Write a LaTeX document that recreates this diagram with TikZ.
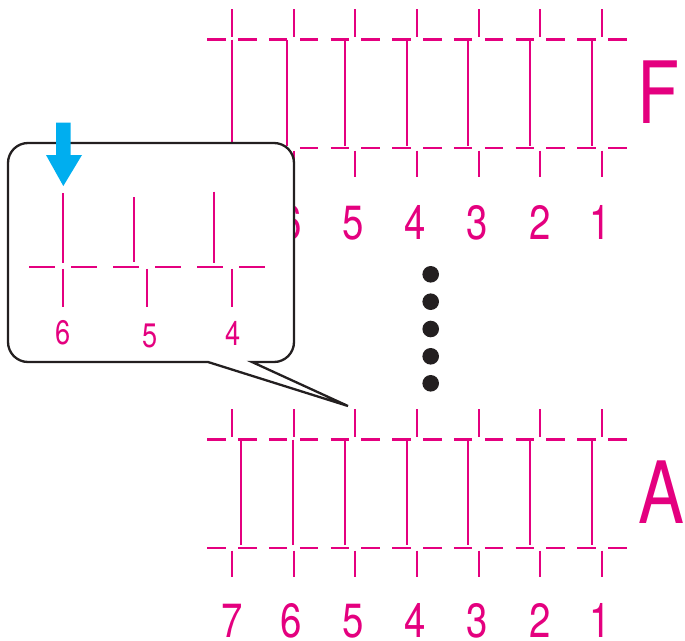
\documentclass[tikz,border=0pt]{standalone}
\usepackage{fontspec}
\setmainfont{TeX Gyre Heros}[FakeStretch=0.8]
\definecolor{pk}{HTML}{E4007F}
\definecolor{cy}{HTML}{00AEEF}
\definecolor{ink}{HTML}{231F20}
\begin{document}
\begin{tikzpicture}[x=1pt,y=-1pt,
  pkl/.style={draw=pk,line width=2.3pt},
  rowdash/.style={pkl,dash pattern=on 18.5pt off 12.33pt},
  boxdash/.style={pkl,dash pattern=on 25.7pt off 16.3pt},
  num/.style={text=pk,anchor=base,inner sep=0pt,font=\fontsize{48}{48}\selectfont},
  smallnum/.style={text=pk,anchor=base,inner sep=0pt,font=\fontsize{34}{34}\selectfont},
  big/.style={text=pk,anchor=base,inner sep=0pt,font=\fontsize{86}{86}\selectfont}]
\useasboundingbox (0,0) rectangle (685,640);

% ---------- row F ----------
\draw[rowdash] (207.33,39.5) -- (626.67,39.5);
\draw[rowdash] (207.33,148) -- (626.67,148);
\foreach \x in {232,293.67,355.33,417,478.67,540.33,602}{
  \draw[pkl] (\x,9) -- (\x,36.7);
  \draw[pkl] (\x,150.5) -- (\x,177);
}
\foreach \x in {232,287,345,407,468,530,592}
  \draw[pkl] (\x,39.5) -- (\x,145.5);
\node[num] (f6) at (291,239) {6};
\node[num] (f5) at (353,239) {5};
\node[num] (f4) at (415,239) {4};
\node[num] (f3) at (477,239) {3};
\node[num] (f2) at (540,239) {2};
\node[num] (f1) at (600,239) {1};
\node[big] (F) at (659,123) {F};

% ---------- row A ----------
\draw[rowdash] (207.33,439.5) -- (626.67,439.5);
\draw[rowdash] (207.33,548.3) -- (626.67,548.3);
\foreach \x in {232,293.67,355.33,417,478.67,540.33,602}{
  \draw[pkl] (\x,409) -- (\x,436.7);
  \draw[pkl] (\x,550.5) -- (\x,577);
}
\foreach \x in {241,293,345,407,468,530,592}
  \draw[pkl] (\x,439.5) -- (\x,544.5);
\node[num] (a7) at (232,637) {7};
\node[num] (a6) at (291,637) {6};
\node[num] (a5) at (353,637) {5};
\node[num] (a4) at (415,637) {4};
\node[num] (a3) at (477,637) {3};
\node[num] (a2) at (540,637) {2};
\node[num] (a1) at (600,637) {1};
\node[big] (A) at (661,523) {A};

% ---------- dots ----------
\foreach \y in {274.3,301.7,329,356.3,383.3}
  \fill[ink] (430.7,\y) circle[radius=8.3];

% ---------- callout ----------
\filldraw[fill=white,draw=ink,line width=2.3pt,line join=miter]
  (252,362) -- (274,362) arc[start angle=90,end angle=0,radius=20]
  -- (294,163) arc[start angle=0,end angle=-90,radius=20]
  -- (28,143) arc[start angle=-90,end angle=-180,radius=20]
  -- (8,342) arc[start angle=180,end angle=90,radius=20]
  -- (208,362) -- (348,406) -- cycle;

\fill[cy] (56,122.7) -- (70.7,122.7) -- (70.7,155) -- (82,155) -- (63.3,186)
  -- (46,155) -- (56,155) -- cycle;

\draw[boxdash] (29.15,266.7) -- (264.85,266.7);
\draw[pkl] (63.3,193.3) -- (63.3,263.3);
\draw[pkl] (134.3,197.3) -- (134.3,261.7);
\draw[pkl] (214.3,191.7) -- (214.3,262.7);
\foreach \x in {63.3,147.3,231.7}
  \draw[pkl] (\x,268.8) -- (\x,306.7);
\node[smallnum] (c6) at (63,344) {6};
\node[smallnum] (c5) at (150,347) {5};
\node[smallnum] (c4) at (233,345) {4};
\end{tikzpicture}
\end{document}
